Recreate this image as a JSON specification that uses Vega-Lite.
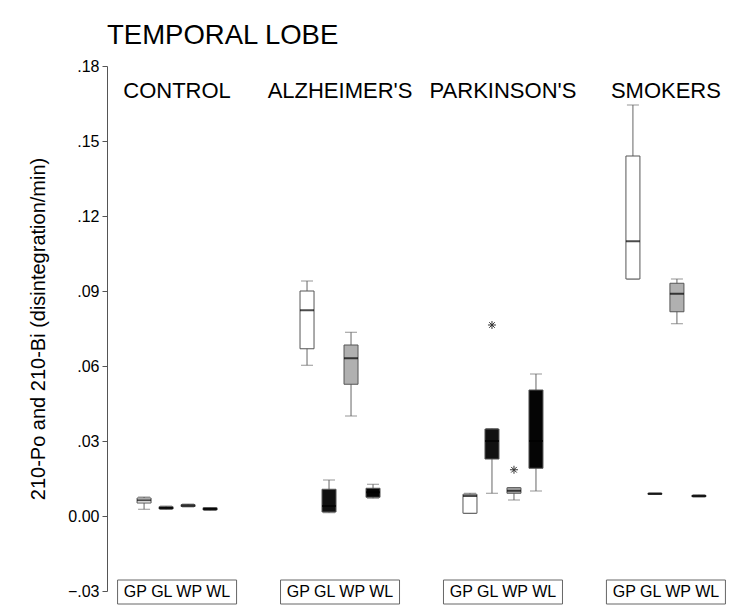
{
  "$schema": "https://vega.github.io/schema/vega-lite/v6.json",
  "autosize": "none",
  "width": 629,
  "height": 525,
  "padding": {"left": 107, "top": 66, "right": 15, "bottom": 23},
  "background": "white",
  "title": {
    "text": "TEMPORAL LOBE",
    "anchor": "start",
    "frame": "group",
    "font": "Liberation Sans",
    "fontSize": 27.5,
    "fontWeight": "normal",
    "color": "#000000",
    "offset": 9
  },
  "config": {
    "view": {"stroke": null},
    "font": "Liberation Sans"
  },
  "datasets": {
    "boxes": [
      {"group": "CONTROL", "type": "GP", "lo": 0.0027, "q1": 0.0052, "med": 0.0063, "q3": 0.0072, "hi": 0.0076},
      {"group": "CONTROL", "type": "GL", "lo": 0.0026, "q1": 0.0028, "med": 0.0032, "q3": 0.0037, "hi": 0.0040},
      {"group": "CONTROL", "type": "WP", "lo": 0.0036, "q1": 0.0038, "med": 0.0042, "q3": 0.0045, "hi": 0.0048},
      {"group": "CONTROL", "type": "WL", "lo": 0.0022, "q1": 0.0024, "med": 0.0028, "q3": 0.0033, "hi": 0.0034},
      {"group": "ALZHEIMER'S", "type": "GP", "lo": 0.0603, "q1": 0.0669, "med": 0.0823, "q3": 0.0900, "hi": 0.0940},
      {"group": "ALZHEIMER'S", "type": "GL", "lo": 0.0013, "q1": 0.0016, "med": 0.0040, "q3": 0.0107, "hi": 0.0144},
      {"group": "ALZHEIMER'S", "type": "WP", "lo": 0.0400, "q1": 0.0527, "med": 0.0631, "q3": 0.0684, "hi": 0.0735},
      {"group": "ALZHEIMER'S", "type": "WL", "lo": 0.0071, "q1": 0.0075, "med": 0.0095, "q3": 0.0111, "hi": 0.0127},
      {"group": "PARKINSON'S", "type": "GP", "lo": 0.0010, "q1": 0.0011, "med": 0.0080, "q3": 0.0087, "hi": 0.0091},
      {"group": "PARKINSON'S", "type": "GL", "lo": 0.0091, "q1": 0.0228, "med": 0.0300, "q3": 0.0348, "hi": 0.0350},
      {"group": "PARKINSON'S", "type": "WP", "lo": 0.0064, "q1": 0.0091, "med": 0.0101, "q3": 0.0113, "hi": 0.0114},
      {"group": "PARKINSON'S", "type": "WL", "lo": 0.0100, "q1": 0.0191, "med": 0.0300, "q3": 0.0504, "hi": 0.0568},
      {"group": "SMOKERS", "type": "GP", "lo": 0.0948, "q1": 0.0948, "med": 0.1099, "q3": 0.1440, "hi": 0.1644},
      {"group": "SMOKERS", "type": "GL", "lo": 0.0086, "q1": 0.0087, "med": 0.0089, "q3": 0.0091, "hi": 0.0092},
      {"group": "SMOKERS", "type": "WP", "lo": 0.0769, "q1": 0.0817, "med": 0.0889, "q3": 0.0931, "hi": 0.0948},
      {"group": "SMOKERS", "type": "WL", "lo": 0.0076, "q1": 0.0077, "med": 0.0080, "q3": 0.0083, "hi": 0.0085}
    ],
    "outliers": [
      {"group": "PARKINSON'S", "type": "GL", "value": 0.0764},
      {"group": "PARKINSON'S", "type": "WP", "value": 0.0185}
    ],
    "groups": [
      {"group": "CONTROL", "codes": "GP GL WP WL"},
      {"group": "ALZHEIMER'S", "codes": "GP GL WP WL"},
      {"group": "PARKINSON'S", "codes": "GP GL WP WL"},
      {"group": "SMOKERS", "codes": "GP GL WP WL"}
    ]
  },
  "layer": [
    {
      "data": {"name": "boxes"},
      "mark": {"type": "rule", "color": "#666666", "strokeWidth": 1},
      "encoding": {
        "x": {"field": "group", "type": "nominal", "axis": null,
              "scale": {"domain": ["CONTROL", "ALZHEIMER'S", "PARKINSON'S", "SMOKERS"], "paddingInner": 0.46, "paddingOuter": 0.16}},
        "xOffset": {"field": "type", "type": "nominal",
                    "scale": {"domain": ["GP", "GL", "WP", "WL"], "paddingInner": 0, "paddingOuter": 0}},
        "y": {"field": "lo", "type": "quantitative",
              "scale": {"domain": [-0.03, 0.18], "nice": false, "zero": false},
              "axis": {
                "title": "210-Po and 210-Bi (disintegration/min)",
                "titleFont": "Liberation Sans",
                "titleFontSize": 20,
                "titleFontWeight": "normal",
                "titleColor": "#000000",
                "titlePadding": 19,
                "values": [-0.03, 0, 0.03, 0.06, 0.09, 0.12, 0.15, 0.18],
                "labelExpr": "datum.value == 0 ? '0.00' : replace(format(datum.value, '.2f'), '0.', '.')",
                "labelFont": "Liberation Sans",
                "labelFontSize": 16,
                "labelColor": "#000000",
                "labelPadding": 3,
                "grid": false,
                "domainColor": "#555555",
                "tickColor": "#555555",
                "tickSize": 5
              }},
        "y2": {"field": "hi"}
      }
    },
    {
      "data": {"name": "boxes"},
      "mark": {"type": "tick", "color": "#666666", "size": 12, "thickness": 1, "orient": "horizontal"},
      "encoding": {
        "x": {"field": "group", "type": "nominal"},
        "xOffset": {"field": "type", "type": "nominal"},
        "y": {"field": "lo", "type": "quantitative"}
      }
    },
    {
      "data": {"name": "boxes"},
      "mark": {"type": "tick", "color": "#666666", "size": 12, "thickness": 1, "orient": "horizontal"},
      "encoding": {
        "x": {"field": "group", "type": "nominal"},
        "xOffset": {"field": "type", "type": "nominal"},
        "y": {"field": "hi", "type": "quantitative"}
      }
    },
    {
      "data": {"name": "boxes"},
      "mark": {"type": "bar", "size": 14, "stroke": "#555555", "strokeWidth": 1},
      "encoding": {
        "x": {"field": "group", "type": "nominal"},
        "xOffset": {"field": "type", "type": "nominal"},
        "y": {"field": "q1", "type": "quantitative"},
        "y2": {"field": "q3"},
        "fill": {"field": "type", "type": "nominal", "legend": null,
                 "scale": {"domain": ["GP", "GL", "WP", "WL"], "range": ["#ffffff", "#111111", "#b0b0b0", "#050505"]}}
      }
    },
    {
      "data": {"name": "boxes"},
      "mark": {"type": "tick", "color": "#000000", "size": 14, "thickness": 2, "orient": "horizontal"},
      "encoding": {
        "x": {"field": "group", "type": "nominal"},
        "xOffset": {"field": "type", "type": "nominal"},
        "y": {"field": "med", "type": "quantitative"}
      }
    },
    {
      "data": {"name": "outliers"},
      "mark": {"type": "point", "shape": "M-1,0L1,0M0,-1L0,1M-0.7,-0.7L0.7,0.7M-0.7,0.7L0.7,-0.7", "size": 64, "filled": false, "stroke": "#333333", "strokeWidth": 1, "opacity": 1},
      "encoding": {
        "x": {"field": "group", "type": "nominal"},
        "xOffset": {"field": "type", "type": "nominal"},
        "y": {"field": "value", "type": "quantitative"}
      }
    },
    {
      "data": {"name": "groups"},
      "mark": {"type": "text", "font": "Liberation Sans", "fontSize": 22, "color": "#000000", "baseline": "middle", "align": "center"},
      "encoding": {
        "x": {"field": "group", "type": "nominal"},
        "y": {"datum": 0.17, "type": "quantitative"},
        "text": {"field": "group"}
      }
    },
    {
      "data": {"name": "groups"},
      "mark": {"type": "bar", "size": 119, "fill": "#ffffff", "stroke": "#666666", "strokeWidth": 1},
      "encoding": {
        "x": {"field": "group", "type": "nominal"},
        "y": {"datum": -0.0352, "type": "quantitative"},
        "y2": {"datum": -0.0256}
      }
    },
    {
      "data": {"name": "groups"},
      "mark": {"type": "text", "font": "Liberation Sans", "fontSize": 16, "color": "#000000", "baseline": "middle", "align": "center"},
      "encoding": {
        "x": {"field": "group", "type": "nominal"},
        "y": {"datum": -0.0304, "type": "quantitative"},
        "text": {"field": "codes"}
      }
    }
  ]
}
